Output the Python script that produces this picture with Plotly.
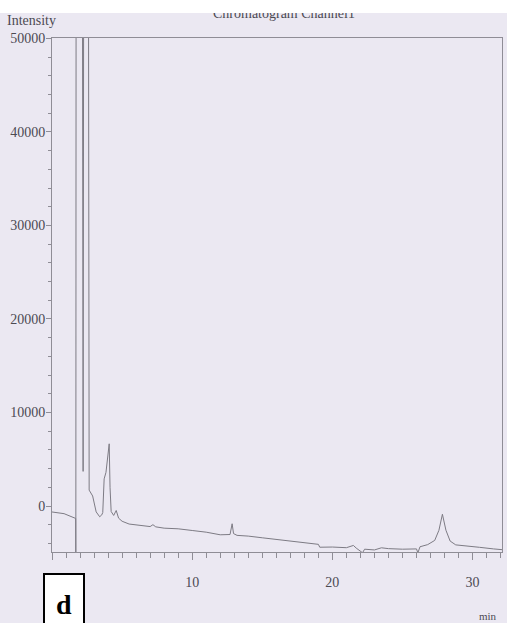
import plotly.graph_objects as go

# Retention time (min) and detector intensity
time_min = [0.0, 0.57, 0.86, 1.69, 1.70, 1.72, 2.17, 2.22, 2.26, 2.60, 2.65, 2.90, 3.05, 3.15, 3.40, 3.55,
            3.62, 3.72, 3.85, 3.98, 4.08, 4.14, 4.22, 4.40, 4.58, 4.75, 5.0, 5.5, 6.0, 7.0, 7.2, 7.4,
            8.0, 9.0, 10.0, 11.0, 12.0, 12.7, 12.85, 12.95, 13.2, 14.0, 15.0, 16.0, 17.0, 18.0, 19.0,
            19.1, 20.0, 21.0, 21.5, 21.7, 22.15, 22.3, 23.0, 23.5, 24.0, 25.0, 26.0, 26.1, 26.25,
            26.8, 27.3, 27.6, 27.85, 28.1, 28.4, 28.8, 29.5, 30.5, 31.5, 32.1]
intensity = [-640, -730, -820, -1330, -6000, 60000, 60000, 3700, 60000, 60000, 1700, 1070, 200, -630, -1150, -950,
             -700, 2900, 3600, 5200, 6650, 2000, -590, -1010, -480, -1300, -1630, -1930, -2020, -2200, -2000, -2230,
             -2370, -2440, -2620, -2800, -3080, -3050, -1900, -2950, -3140, -3220, -3400, -3570, -3750, -3920, -4100,
             -4410, -4390, -4460, -4220, -4500, -5000, -4620, -4700, -4470, -4560, -4620, -4590, -5010, -4360,
             -4130, -3680, -2600, -880, -2590, -3750, -4160, -4240, -4420, -4590, -4670]

y_ticks = [0, 10000, 20000, 30000, 40000, 50000]
x_ticks = [0, 10, 20, 30]

BG = "#EBE8F2"
AX = "#8f8d96"
TXT = "#4c4a52"
FONT = "Liberation Serif"

fig = go.Figure()
fig.add_trace(go.Scatter(x=time_min, y=intensity, mode="lines",
                         line=dict(color="#7d7b84", width=1), hoverinfo="skip"))

fig.update_layout(
    width=507, height=623,
    margin=dict(l=52, r=5, t=38, b=71, autoexpand=False),
    paper_bgcolor=BG, plot_bgcolor=BG,
    showlegend=False,
    font=dict(family=FONT, size=13, color=TXT),
)
fig.update_xaxes(range=[0, 32.1], tickvals=x_ticks, ticktext=[str(v) for v in x_ticks],
                 automargin=False,
                 showgrid=False, zeroline=False, showline=True, linecolor=AX, linewidth=1, mirror=True,
                 ticks="outside", ticklen=7, tickcolor=AX, ticklabelstandoff=10,
                 tickfont=dict(family=FONT, size=14, color=TXT),
                 minor=dict(dtick=1, ticks="outside", ticklen=5, tickcolor=AX))
fig.update_yaxes(range=[-4920, 50050], tickvals=y_ticks, ticktext=[str(v) for v in y_ticks],
                 automargin=False,
                 showgrid=False, zeroline=False, showline=True, linecolor=AX, linewidth=1, mirror=True,
                 ticks="outside", ticklen=5, tickcolor=AX, ticklabelstandoff=-2,
                 tickfont=dict(family=FONT, size=14, color=TXT),
                 minor=dict(dtick=2000, ticks="outside", ticklen=3, tickcolor=AX))

# Pixel -> paper helpers for text placement
def px(xp):
    return (xp - 52) / 450.0

def py(yp):
    return (552 - yp) / 514.0

fig.add_annotation(text="Chromatogram Channel1", x=px(284), y=py(14), xref="paper", yref="paper",
                   xanchor="center", yanchor="middle",
                   showarrow=False, font=dict(family=FONT, size=14, color=TXT))
# white strip at top of scan
fig.add_annotation(text=" ", x=px(253.5), y=py(0), xref="paper", yref="paper", xanchor="center",
                   yanchor="top", width=520, height=13, bgcolor="white", borderpad=0, borderwidth=0,
                   showarrow=False)
fig.add_annotation(text="Intensity", x=px(31), y=py(21), xref="paper", yref="paper",
                   xanchor="center", yanchor="middle",
                   showarrow=False, font=dict(family=FONT, size=14, color=TXT))
fig.add_annotation(text="min", x=px(488), y=py(616), xref="paper", yref="paper",
                   xanchor="center", yanchor="middle",
                   showarrow=False, font=dict(family=FONT, size=11, color=TXT))
fig.add_annotation(text="<b>d</b>", x=px(43), y=py(573), xref="paper", yref="paper",
                   xanchor="left", yanchor="top", width=38, height=58, bgcolor="white",
                   bordercolor="black", borderwidth=2, borderpad=0, showarrow=False,
                   font=dict(family=FONT, size=28, color="black"))

fig.write_html("out.html", config={"displayModeBar": False},
               post_script="document.body.style.margin='0';document.body.style.overflow='hidden';")
